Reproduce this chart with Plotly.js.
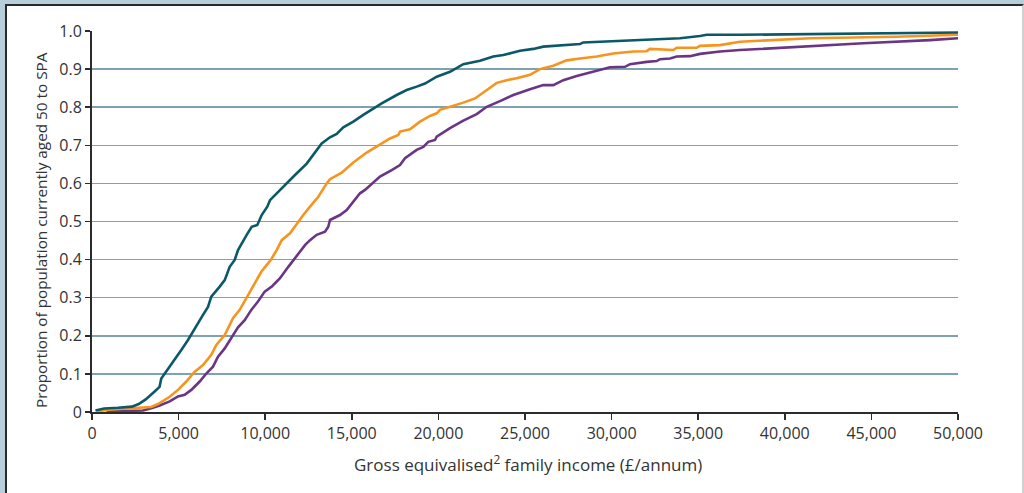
<!DOCTYPE html>
<html>
<head>
<meta charset="utf-8">
<script src="https://cdn.plot.ly/plotly-3.0.1.min.js"></script>
<style>
  html, body { margin:0; padding:0; width:1024px; height:493px; overflow:hidden; background:#b7cfda; }
  #frame { position:absolute; left:5px; top:4px; width:1015px; height:500px; background:#ffffff;
           border-top:2px solid #2a2a2a; border-left:2px solid #2a2a2a; border-right:2px solid #d0d0d0; }
  #chart { position:absolute; left:0; top:0; width:1024px; height:493px; }
</style>
</head>
<body>
<div id="frame"></div>
<div id="chart"></div>
<script>
// Income (£/annum) and cumulative proportion for each series
const tealX = [200, 700, 1500, 2300, 2700, 3100, 3600, 3900, 4000, 4486, 4775, 5156, 5543, 5930, 6409, 6697, 6888, 7373, 7662, 7950, 8239, 8430, 8643, 8932, 9220, 9544, 9798, 10121, 10277, 10855, 11241, 11721, 12396, 12973, 13262, 13741, 14128, 14509, 15087, 15664, 16149, 16726, 17592, 18170, 18747, 19226, 19902, 20670, 21438, 22402, 23170, 23748, 24711, 25479, 26056, 27021, 28176, 28366, 31253, 33949, 35104, 35491, 37413, 45000, 50000];
const tealY = [0.004, 0.009, 0.011, 0.014, 0.021, 0.033, 0.053, 0.066, 0.088, 0.119, 0.136, 0.163, 0.189, 0.220, 0.255, 0.276, 0.303, 0.329, 0.346, 0.381, 0.399, 0.425, 0.443, 0.465, 0.486, 0.491, 0.517, 0.539, 0.556, 0.583, 0.600, 0.622, 0.652, 0.688, 0.705, 0.721, 0.730, 0.747, 0.762, 0.780, 0.794, 0.810, 0.832, 0.845, 0.854, 0.862, 0.880, 0.893, 0.913, 0.922, 0.933, 0.937, 0.948, 0.953, 0.959, 0.963, 0.966, 0.970, 0.976, 0.981, 0.987, 0.990, 0.990, 0.993, 0.996];

const orangeX = [300, 1000, 2000, 3000, 3425, 3810, 4486, 4965, 5445, 5930, 6409, 6888, 7177, 7662, 8141, 8528, 8909, 9394, 9775, 10162, 10375, 10664, 10953, 11432, 11819, 12200, 12587, 13066, 13551, 13741, 14417, 15087, 15860, 16628, 17206, 17685, 17783, 18360, 18938, 19515, 19902, 20092, 20860, 21438, 22113, 22788, 23366, 23943, 24521, 25289, 25866, 26634, 27402, 28176, 29139, 30098, 31253, 32027, 32217, 33563, 33759, 34913, 35104, 36259, 37027, 37413, 41455, 46461, 50000];
const orangeY = [0.002, 0.006, 0.009, 0.011, 0.013, 0.021, 0.040, 0.058, 0.080, 0.106, 0.123, 0.150, 0.176, 0.202, 0.246, 0.268, 0.298, 0.338, 0.368, 0.390, 0.403, 0.425, 0.451, 0.469, 0.495, 0.517, 0.539, 0.565, 0.600, 0.611, 0.628, 0.655, 0.681, 0.701, 0.718, 0.727, 0.736, 0.742, 0.762, 0.777, 0.784, 0.793, 0.803, 0.812, 0.823, 0.845, 0.864, 0.871, 0.876, 0.885, 0.900, 0.909, 0.923, 0.928, 0.933, 0.941, 0.946, 0.947, 0.953, 0.950, 0.956, 0.956, 0.961, 0.963, 0.969, 0.972, 0.981, 0.985, 0.990];

const purpleX = [826, 1692, 2945, 3425, 3909, 4486, 4965, 5352, 5733, 6218, 6600, 6986, 7275, 7662, 8043, 8430, 8816, 9197, 9584, 9971, 10400, 10855, 11334, 11721, 12009, 12298, 12587, 12973, 13453, 13643, 13741, 14319, 14706, 15087, 15473, 15762, 16628, 17304, 17783, 18072, 18747, 19128, 19417, 19804, 19902, 20670, 21438, 22211, 22788, 23557, 24325, 25289, 26056, 26634, 27212, 27984, 29139, 29908, 30774, 31062, 32027, 32604, 32794, 33372, 33759, 34527, 35104, 36259, 37413, 40687, 44532, 48383, 50000];
const purpleY = [0.001, 0.003, 0.004, 0.010, 0.017, 0.028, 0.041, 0.045, 0.058, 0.080, 0.101, 0.119, 0.145, 0.167, 0.193, 0.222, 0.241, 0.268, 0.290, 0.316, 0.330, 0.351, 0.381, 0.403, 0.421, 0.438, 0.451, 0.465, 0.473, 0.486, 0.504, 0.517, 0.530, 0.552, 0.574, 0.583, 0.618, 0.635, 0.648, 0.666, 0.688, 0.696, 0.709, 0.714, 0.723, 0.745, 0.765, 0.782, 0.801, 0.816, 0.832, 0.847, 0.858, 0.858, 0.871, 0.882, 0.895, 0.905, 0.906, 0.913, 0.919, 0.921, 0.926, 0.928, 0.933, 0.934, 0.940, 0.946, 0.950, 0.959, 0.968, 0.976, 0.981];

const yTickVals = [0, 0.1, 0.2, 0.3, 0.4, 0.5, 0.6, 0.7, 0.8, 0.9, 1.0];
const yTickText = ['0', '0.1', '0.2', '0.3', '0.4', '0.5', '0.6', '0.7', '0.8', '0.9', '1.0'];
const xTickVals = [0, 5000, 10000, 15000, 20000, 25000, 30000, 35000, 40000, 45000, 50000];
const xTickText = ['0', '5,000', '10,000', '15,000', '20,000', '25,000', '30,000', '35,000', '40,000', '45,000', '50,000'];
const xTitle = 'Gross equivalised<sup>2</sup> family income (£/annum)';
const yTitle = 'Proportion of population currently aged 50 to SPA';

const font = "'Open Sans', 'DejaVu Sans', sans-serif";
const mk = (x, y, c) => ({x: x, y: y, type: 'scatter', mode: 'lines', line: {color: c, width: 2.6}, hoverinfo: 'skip', showlegend: false});

const data = [
  mk(purpleX, purpleY, '#6b3586'),
  mk(orangeX, orangeY, '#f7941d'),
  mk(tealX, tealY, '#0b5968')
];

// plot area: x 92..958, y 31..412 (px)
const W = 866, H = 381;
const layout = {
  width: 1024, height: 493,
  margin: {l: 92, r: 66, t: 31, b: 81, pad: 0},
  paper_bgcolor: 'rgba(0,0,0,0)',
  plot_bgcolor: 'rgba(0,0,0,0)',
  font: {family: font, size: 15, color: '#333333'},
  xaxis: {
    range: [0, 50000], tickvals: xTickVals, ticktext: xTickText,
    showgrid: false, zeroline: false,
    showline: true, linecolor: '#2b2b2b', linewidth: 2,
    ticks: 'outside', ticklen: 6, tickwidth: 1.5, tickcolor: '#2b2b2b',
    tickfont: {family: font, size: 16, color: '#333333'},
    fixedrange: true
  },
  yaxis: {
    range: [0, 1], tickvals: yTickVals, ticktext: yTickText,
    showgrid: true, gridcolor: '#7fa2b0', gridwidth: 1.5, zeroline: false,
    showline: true, linecolor: '#2b2b2b', linewidth: 2,
    ticks: 'outside', ticklen: 5, tickwidth: 1.5, tickcolor: '#2b2b2b',
    tickfont: {family: font, size: 16, color: '#333333'},
    fixedrange: true
  },
  annotations: [
    {text: xTitle, xref: 'paper', yref: 'paper', x: (528 - 92) / W, y: -(463 - 412) / H,
     xanchor: 'center', yanchor: 'middle', showarrow: false,
     font: {family: font, size: 17, color: '#333333'}},
    {text: yTitle, xref: 'paper', yref: 'paper', x: -(92 - 41) / W, y: (412 - 230) / H,
     xanchor: 'center', yanchor: 'middle', textangle: -90, showarrow: false,
     font: {family: font, size: 15.3, color: '#333333'}}
  ]
};

Plotly.newPlot('chart', data, layout, {displayModeBar: false, staticPlot: true});
</script>
</body>
</html>
